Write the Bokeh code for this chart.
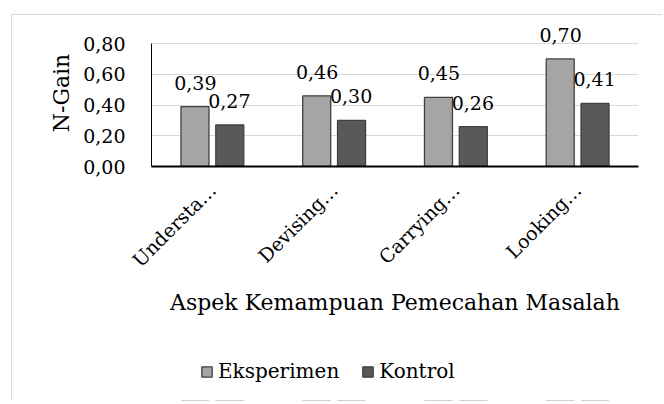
import math
from bokeh.plotting import figure
from bokeh.layouts import column
from bokeh.models import (ColumnDataSource, FactorRange, Range1d, LabelSet, Legend,
                          LegendItem, CustomJSTickFormatter, FixedTicker)
from bokeh.transform import dodge
from bokeh.core.properties import value
from bokeh.embed import file_html
from bokeh.resources import INLINE

categories = ["Understa…", "Devising…", "Carrying…", "Looking…"]
eksperimen = [0.39, 0.46, 0.45, 0.70]
kontrol = [0.27, 0.30, 0.26, 0.41]
y_ticks = [0.0, 0.2, 0.4, 0.6, 0.8]
series_names = ["Eksperimen", "Kontrol"]
series_colors = ["#A5A5A5", "#595959"]
x_title = "Aspek Kemampuan Pemecahan Masalah"
y_title = "N-Gain"

FONT = "DejaVu Serif"
Y_MAX = 0.8
EDGE = "#404040"


def fmt(v):
    return f"{v:.2f}".replace(".", ",")


source = ColumnDataSource(dict(
    cat=categories,
    eks=eksperimen,
    kon=kontrol,
    eks_lbl=[fmt(v) for v in eksperimen],
    kon_lbl=[fmt(v) for v in kontrol],
))

# extra headroom above the 0.80 gridline so the data labels are not clipped
p = figure(
    x_range=FactorRange(*categories, range_padding=0),
    y_range=Range1d(0, Y_MAX * 147 / 123),
    frame_width=487, frame_height=147,
    min_border_left=139, min_border_right=24, min_border_top=4, min_border_bottom=179,
    output_backend="svg", toolbar_location=None,
)
p.outline_line_color = None
p.background_fill_color = "white"
p.border_fill_color = "white"

p.vbar(x=dodge("cat", -0.143, range=p.x_range), top="eks", width=0.23, source=source,
       fill_color=series_colors[0], line_color=EDGE, line_width=1.3)
p.vbar(x=dodge("cat", 0.143, range=p.x_range), top="kon", width=0.23, source=source,
       fill_color=series_colors[1], line_color=EDGE, line_width=1.3)

for col, top, off in (("eks_lbl", "eks", -17), ("kon_lbl", "kon", 17)):
    ls = LabelSet(x="cat", y=top, text=col, source=source, x_offset=off, y_offset=17,
                  text_align="center", text_baseline="alphabetic",
                  text_font=value(FONT), text_font_size="19px", text_color="black")
    p.add_layout(ls)

# grid
p.xgrid.grid_line_color = None
p.ygrid.grid_line_color = "#d9d9d9"
p.ygrid.grid_line_width = 1
p.ygrid.ticker = FixedTicker(ticks=y_ticks)

# y axis
p.yaxis.ticker = FixedTicker(ticks=y_ticks)
p.yaxis.bounds = (0, Y_MAX)
p.yaxis.formatter = CustomJSTickFormatter(code="return tick.toFixed(2).replace('.', ',');")
p.yaxis.major_tick_line_color = None
p.yaxis.minor_tick_line_color = None
p.yaxis.axis_line_color = "black"
p.yaxis.axis_line_width = 1
p.yaxis.major_label_text_font = FONT
p.yaxis.major_label_text_font_size = "19px"
p.yaxis.major_label_text_color = "black"
p.yaxis.major_label_standoff = 20
p.yaxis.axis_label = y_title
p.yaxis.axis_label_text_font = FONT
p.yaxis.axis_label_text_font_size = "22px"
p.yaxis.axis_label_text_font_style = "normal"
p.yaxis.axis_label_text_color = "black"
p.yaxis.axis_label_standoff = 6

# x axis
p.xaxis.major_tick_line_color = None
p.xaxis.minor_tick_line_color = None
p.xaxis.axis_line_color = "black"
p.xaxis.axis_line_width = 2
p.xaxis.major_label_orientation = math.pi / 4
p.xaxis.major_label_text_font = FONT
p.xaxis.major_label_text_font_size = "19px"
p.xaxis.major_label_text_color = "black"
p.xaxis.major_label_standoff = 14
p.xaxis.axis_label = x_title
p.xaxis.axis_label_text_font = FONT
p.xaxis.axis_label_text_font_size = "22px"
p.xaxis.axis_label_text_font_style = "normal"
p.xaxis.axis_label_text_color = "black"
p.xaxis.axis_label_standoff = 8

# legend strip below the chart (its own small figure so nothing is clipped);
# the same series are drawn there but lie far outside its visible y range
lg = figure(width=650, height=56, x_range=FactorRange(*categories, range_padding=0),
            y_range=Range1d(10, 11),
            x_axis_type=None, y_axis_type=None, min_border=0,
            output_backend="svg", toolbar_location=None)
lg.outline_line_color = None
lg.grid.grid_line_color = None
lg.background_fill_color = "white"
lg.border_fill_color = "white"
g1 = lg.vbar(x=dodge("cat", -0.143, range=lg.x_range), top="eks", width=0.23, source=source,
             fill_color=series_colors[0], line_color=EDGE, line_width=1.3)
g2 = lg.vbar(x=dodge("cat", 0.143, range=lg.x_range), top="kon", width=0.23, source=source,
             fill_color=series_colors[1], line_color=EDGE, line_width=1.3)
legend = Legend(
    items=[LegendItem(label=series_names[0], renderers=[g1]),
           LegendItem(label=series_names[1], renderers=[g2])],
    location=(49, 18), orientation="horizontal",
    glyph_width=13, glyph_height=13, label_standoff=5, spacing=22,
    padding=0, margin=0, border_line_color=None, background_fill_alpha=0,
    label_text_font=FONT, label_text_font_size="20px", label_text_color="black",
)
lg.add_layout(legend)

layout = column(p, lg, spacing=0,
                styles={"margin-left": "11px", "margin-top": "14px",
                        "border-left": "1px solid #d9d9d9", "border-top": "1px solid #d9d9d9"})

open("out.html", "w").write(file_html(layout, INLINE))
